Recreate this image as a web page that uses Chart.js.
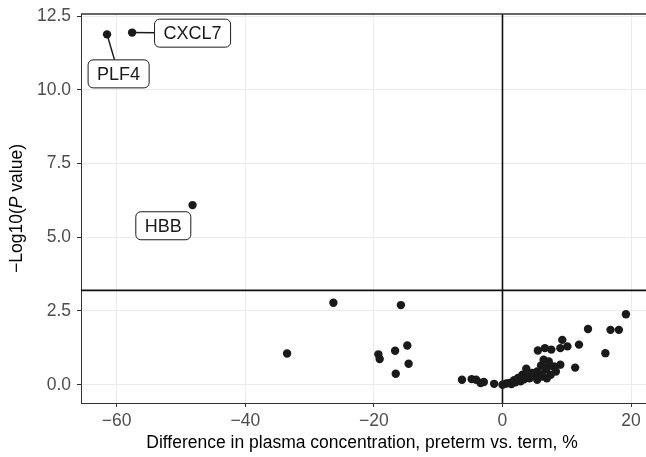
<!DOCTYPE html>
<html>
<head>
<meta charset="utf-8">
<script src="https://cdn.jsdelivr.net/npm/chart.js@4.4.1/dist/chart.umd.min.js"></script>
<style>
  html, body { margin: 0; padding: 0; background: #ffffff; }
  canvas { display: block; }
</style>
</head>
<body>
<canvas id="c" width="646" height="457"></canvas>
<script>
// ---- Data ----
const diffPct = [
  -61.5, -57.6, -48.2,
  -33.5, -26.3, -19.3, -19.1, -16.7, -16.6, -15.8, -14.8, -14.6,
  -6.3, -4.8, -4.1, -3.4, -2.9, -1.3, 0.0, 0.6, 1.1, 1.4, 1.8, 2.0, 2.4, 2.8,
  3.1, 3.3, 3.7, 3.9, 4.2, 4.6, 4.9, 5.4, 5.4, 5.5, 5.8, 6.0, 6.2, 6.4, 6.6,
  6.7, 6.9, 7.0, 7.2, 7.5, 7.6, 8.0, 8.3, 9.0, 9.0, 9.3, 10.1, 11.3, 11.9,
  13.3, 16.0, 16.8, 18.1, 19.2
];
const negLog10P = [
  11.88, 11.94, 6.09,
  1.06, 2.78, 1.03, 0.87, 1.15, 0.37, 2.70, 1.33, 0.71,
  0.17, 0.19, 0.17, 0.06, 0.09, 0.03, 0.00, 0.04, 0.06, 0.02, 0.15, 0.08, 0.23, 0.12,
  0.34, 0.18, 0.54, 0.28, 0.22, 0.40, 0.30, 0.45, 0.17, 1.16, 0.36, 0.65, 0.28, 0.85, 1.24,
  0.51, 0.22, 0.60, 0.79, 0.34, 1.19, 0.62, 0.45, 1.24, 0.68, 1.52, 1.30, 0.58, 1.36,
  1.89, 1.07, 1.86, 1.86, 2.39
];
// labelled proteins: index of point, label-box centre in data units
const labelNames = ['PLF4', 'CXCL7', 'HBB'];
const labelPointIndex = [0, 1, 2];
const labelBoxX = [-59.7, -48.2, -52.75];
const labelBoxY = [10.54, 11.92, 5.39];

const xTicks = [-60, -40, -20, 0, 20];
const yTicks = [0, 2.5, 5, 7.5, 10, 12.5];
const thresholdY = 3.2;
const zeroX = 0;

const xTitle = 'Difference in plasma concentration, preterm vs. term, %';

// ---- Chart ----
const FONT = '"Liberation Sans", Arial, Helvetica, sans-serif';
const points = diffPct.map((x, i) => ({ x: x, y: negLog10P[i] }));

function fmtMinus(v) { return v < 0 ? '\u2212' + Math.abs(v) : String(v); }

const refLines = {
  id: 'refLines',
  beforeDatasetsDraw(chart) {
    const { ctx, chartArea: a, scales: { x, y } } = chart;
    ctx.save();
    ctx.strokeStyle = '#111111';
    ctx.lineWidth = 1.6;
    const yp = y.getPixelForValue(thresholdY);
    ctx.beginPath(); ctx.moveTo(a.left, yp); ctx.lineTo(a.right, yp); ctx.stroke();
    const xp = x.getPixelForValue(zeroX);
    ctx.beginPath(); ctx.moveTo(xp, a.top); ctx.lineTo(xp, a.bottom); ctx.stroke();
    // top panel border
    ctx.strokeStyle = '#333333';
    ctx.lineWidth = 1.5;
    ctx.beginPath(); ctx.moveTo(a.left, a.top); ctx.lineTo(a.right, a.top); ctx.stroke();
    ctx.restore();
  }
};

function roundRect(ctx, x, y, w, h, r) {
  ctx.beginPath();
  ctx.moveTo(x + r, y);
  ctx.lineTo(x + w - r, y); ctx.arcTo(x + w, y, x + w, y + r, r);
  ctx.lineTo(x + w, y + h - r); ctx.arcTo(x + w, y + h, x + w - r, y + h, r);
  ctx.lineTo(x + r, y + h); ctx.arcTo(x, y + h, x, y + h - r, r);
  ctx.lineTo(x, y + r); ctx.arcTo(x, y, x + r, y, r);
  ctx.closePath();
}

const labelPlugin = {
  id: 'labelPlugin',
  afterDatasetsDraw(chart) {
    const { ctx, scales: { x, y } } = chart;
    ctx.save();
    ctx.font = '18px ' + FONT;
    const padX = 9, h = 28;
    labelNames.forEach((name, k) => {
      const idx = labelPointIndex[k];
      const px = x.getPixelForValue(diffPct[idx]);
      const py = y.getPixelForValue(negLog10P[idx]);
      const cx = x.getPixelForValue(labelBoxX[k]);
      const cy = y.getPixelForValue(labelBoxY[k]);
      const w = ctx.measureText(name).width + 2 * padX;
      const bx = cx - w / 2, by = cy - h / 2;
      const dx = cx - px, dy = cy - py;
      let t = 1;
      if (dx !== 0) t = Math.min(t, Math.abs((w / 2) / dx));
      if (dy !== 0) t = Math.min(t, Math.abs((h / 2) / dy));
      const ex = cx - dx * t, ey = cy - dy * t;
      const gap = Math.hypot(ex - px, ey - py);
      if (gap > 16) {
        ctx.strokeStyle = '#1a1a1a';
        ctx.lineWidth = 1.5;
        ctx.beginPath(); ctx.moveTo(px, py); ctx.lineTo(ex, ey); ctx.stroke();
      }
      roundRect(ctx, bx, by, w, h, 5);
      ctx.fillStyle = '#ffffff';
      ctx.fill();
      ctx.strokeStyle = '#1a1a1a';
      ctx.lineWidth = 1;
      ctx.stroke();
      ctx.fillStyle = '#1a1a1a';
      ctx.textAlign = 'center';
      ctx.textBaseline = 'middle';
      ctx.fillText(name, cx, cy + 1);
    });
    ctx.restore();
  }
};

const titles = {
  id: 'titles',
  afterDraw(chart) {
    const { ctx, chartArea: a } = chart;
    ctx.save();
    ctx.fillStyle = '#000000';
    const tf = '17.5px ' + FONT;
    ctx.font = tf;
    ctx.textAlign = 'center';
    ctx.textBaseline = 'middle';
    ctx.fillText(xTitle, 362, 443);
    const parts = [
      { t: '\u2212Log10(', f: tf },
      { t: 'P', f: 'italic ' + tf },
      { t: ' value)', f: tf }
    ];
    let total = 0;
    parts.forEach(p => { ctx.font = p.f; p.w = ctx.measureText(p.t).width; total += p.w; });
    ctx.translate(17, (a.top + a.bottom) / 2);
    ctx.rotate(-Math.PI / 2);
    ctx.textAlign = 'left';
    let cur = -total / 2;
    parts.forEach(p => { ctx.font = p.f; ctx.fillText(p.t, cur, 0); cur += p.w; });
    ctx.restore();
  }
};

new Chart(document.getElementById('c'), {
  type: 'scatter',
  data: {
    datasets: [{
      data: points,
      backgroundColor: '#1a1a1a',
      borderWidth: 0,
      pointRadius: 4.2,
      pointHoverRadius: 4.2
    }]
  },
  options: {
    responsive: false,
    animation: false,
    events: [],
    layout: { autoPadding: false, padding: { top: 14, right: 0, left: 0, bottom: 0 } },
    plugins: { legend: { display: false }, tooltip: { enabled: false } },
    scales: {
      x: {
        type: 'linear',
        min: -65.55,
        max: 22.32,
        afterBuildTicks: s => { s.ticks = xTicks.map(v => ({ value: v })); },
        afterFit: s => { s.height = 54; s.paddingLeft = 0; s.paddingRight = 0; },
        grid: { color: '#ebebeb', lineWidth: 1, tickColor: '#333333', tickLength: 4 },
        border: { display: true, color: '#333333', width: 1 },
        ticks: {
          color: '#4d4d4d',
          font: { family: FONT, size: 17.5 },
          padding: 4,
          maxRotation: 0,
          callback: v => fmtMinus(v)
        }
      },
      y: {
        type: 'linear',
        min: -0.62,
        max: 12.57,
        afterBuildTicks: s => { s.ticks = yTicks.map(v => ({ value: v })); },
        afterFit: s => { s.width = 81; s.paddingTop = 0; s.paddingBottom = 0; },
        grid: { color: '#ebebeb', lineWidth: 1, tickColor: '#333333', tickLength: 4 },
        border: { display: true, color: '#333333', width: 1 },
        ticks: {
          color: '#4d4d4d',
          font: { family: FONT, size: 17.5 },
          padding: 6,
          callback: v => v.toFixed(1)
        }
      }
    }
  },
  plugins: [refLines, labelPlugin, titles]
});
</script>
</body>
</html>
